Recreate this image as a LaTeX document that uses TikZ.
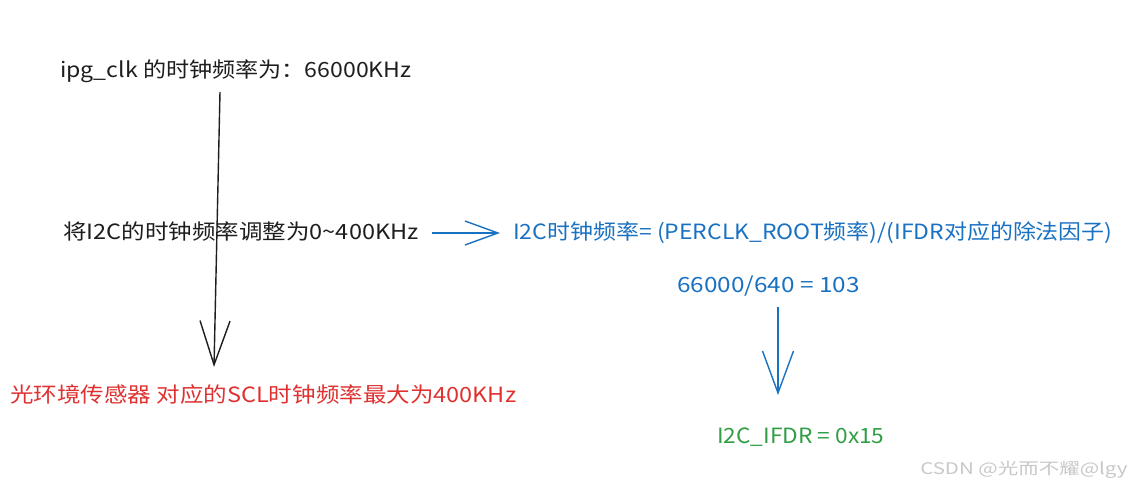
\documentclass[tikz,border=0pt]{standalone}
\usepackage{fontspec}
\setmainfont{Noto Sans CJK SC}
\usetikzlibrary{arrows.meta}
\definecolor{inkblack}{HTML}{1E1E1E}
\definecolor{inkblue}{HTML}{1971C2}
\definecolor{inkred}{HTML}{E03131}
\definecolor{inkgreen}{HTML}{2F9E44}
\definecolor{wmgray}{HTML}{C8C8C8}
\begin{document}
\begin{tikzpicture}[x=1pt,y=-1pt,
  txt/.style={inner sep=0pt, anchor=west, transform shape, font=\fontsize{21}{25}\selectfont},
  conn/.style={line width=1.4pt}]
\useasboundingbox[fill=white] (0,0) rectangle (1135,493);
\node[txt, xscale=1.10, text=inkblack] (t1) at (60,71) {ipg\_clk 的时钟频率为：66000KHz};
\node[txt, xscale=1.12, text=inkblack] (t2) at (63,231) {将I2C的时钟频率调整为0\textasciitilde400KHz};
\node[txt, xscale=1.093, text=inkblue] (t3) at (513,233) {I2C时钟频率= (PERCLK\_ROOT频率)/(IFDR对应的除法因子)};
\node[txt, xscale=1.16, text=inkblue] (t4) at (677,286) {66000/640 = 103};
\node[txt, xscale=1.08, text=inkgreen] (t5) at (717,437) {I2C\_IFDR = 0x15};
\node[txt, xscale=1.12, text=inkred] (t6) at (10,395) {光环境传感器 对应的SCL时钟频率最大为400KHz};
\node[inner sep=0pt, anchor=west, transform shape, xscale=1.28, font=\fontsize{16}{19}\selectfont, text=wmgray] (wm) at (920,470) {CSDN @光而不耀@lgy};
\coordinate (a1s) at (220,92);
\coordinate (a1e) at (214,367);
\coordinate (a2s) at (432,233);
\coordinate (a2e) at (500,233);
\coordinate (a3s) at (778,307);
\coordinate (a3e) at (778,395);
\draw[conn, draw=inkblack, -{Straight Barb[length=44pt,width=30pt]}] (a1s) -- (a1e);
\draw[conn, draw=inkblue, -{Straight Barb[length=33pt,width=24pt]}] (a2s) -- (a2e);
\draw[conn, draw=inkblue, -{Straight Barb[length=42pt,width=31pt]}] (a3s) -- (a3e);
\end{tikzpicture}
\end{document}
